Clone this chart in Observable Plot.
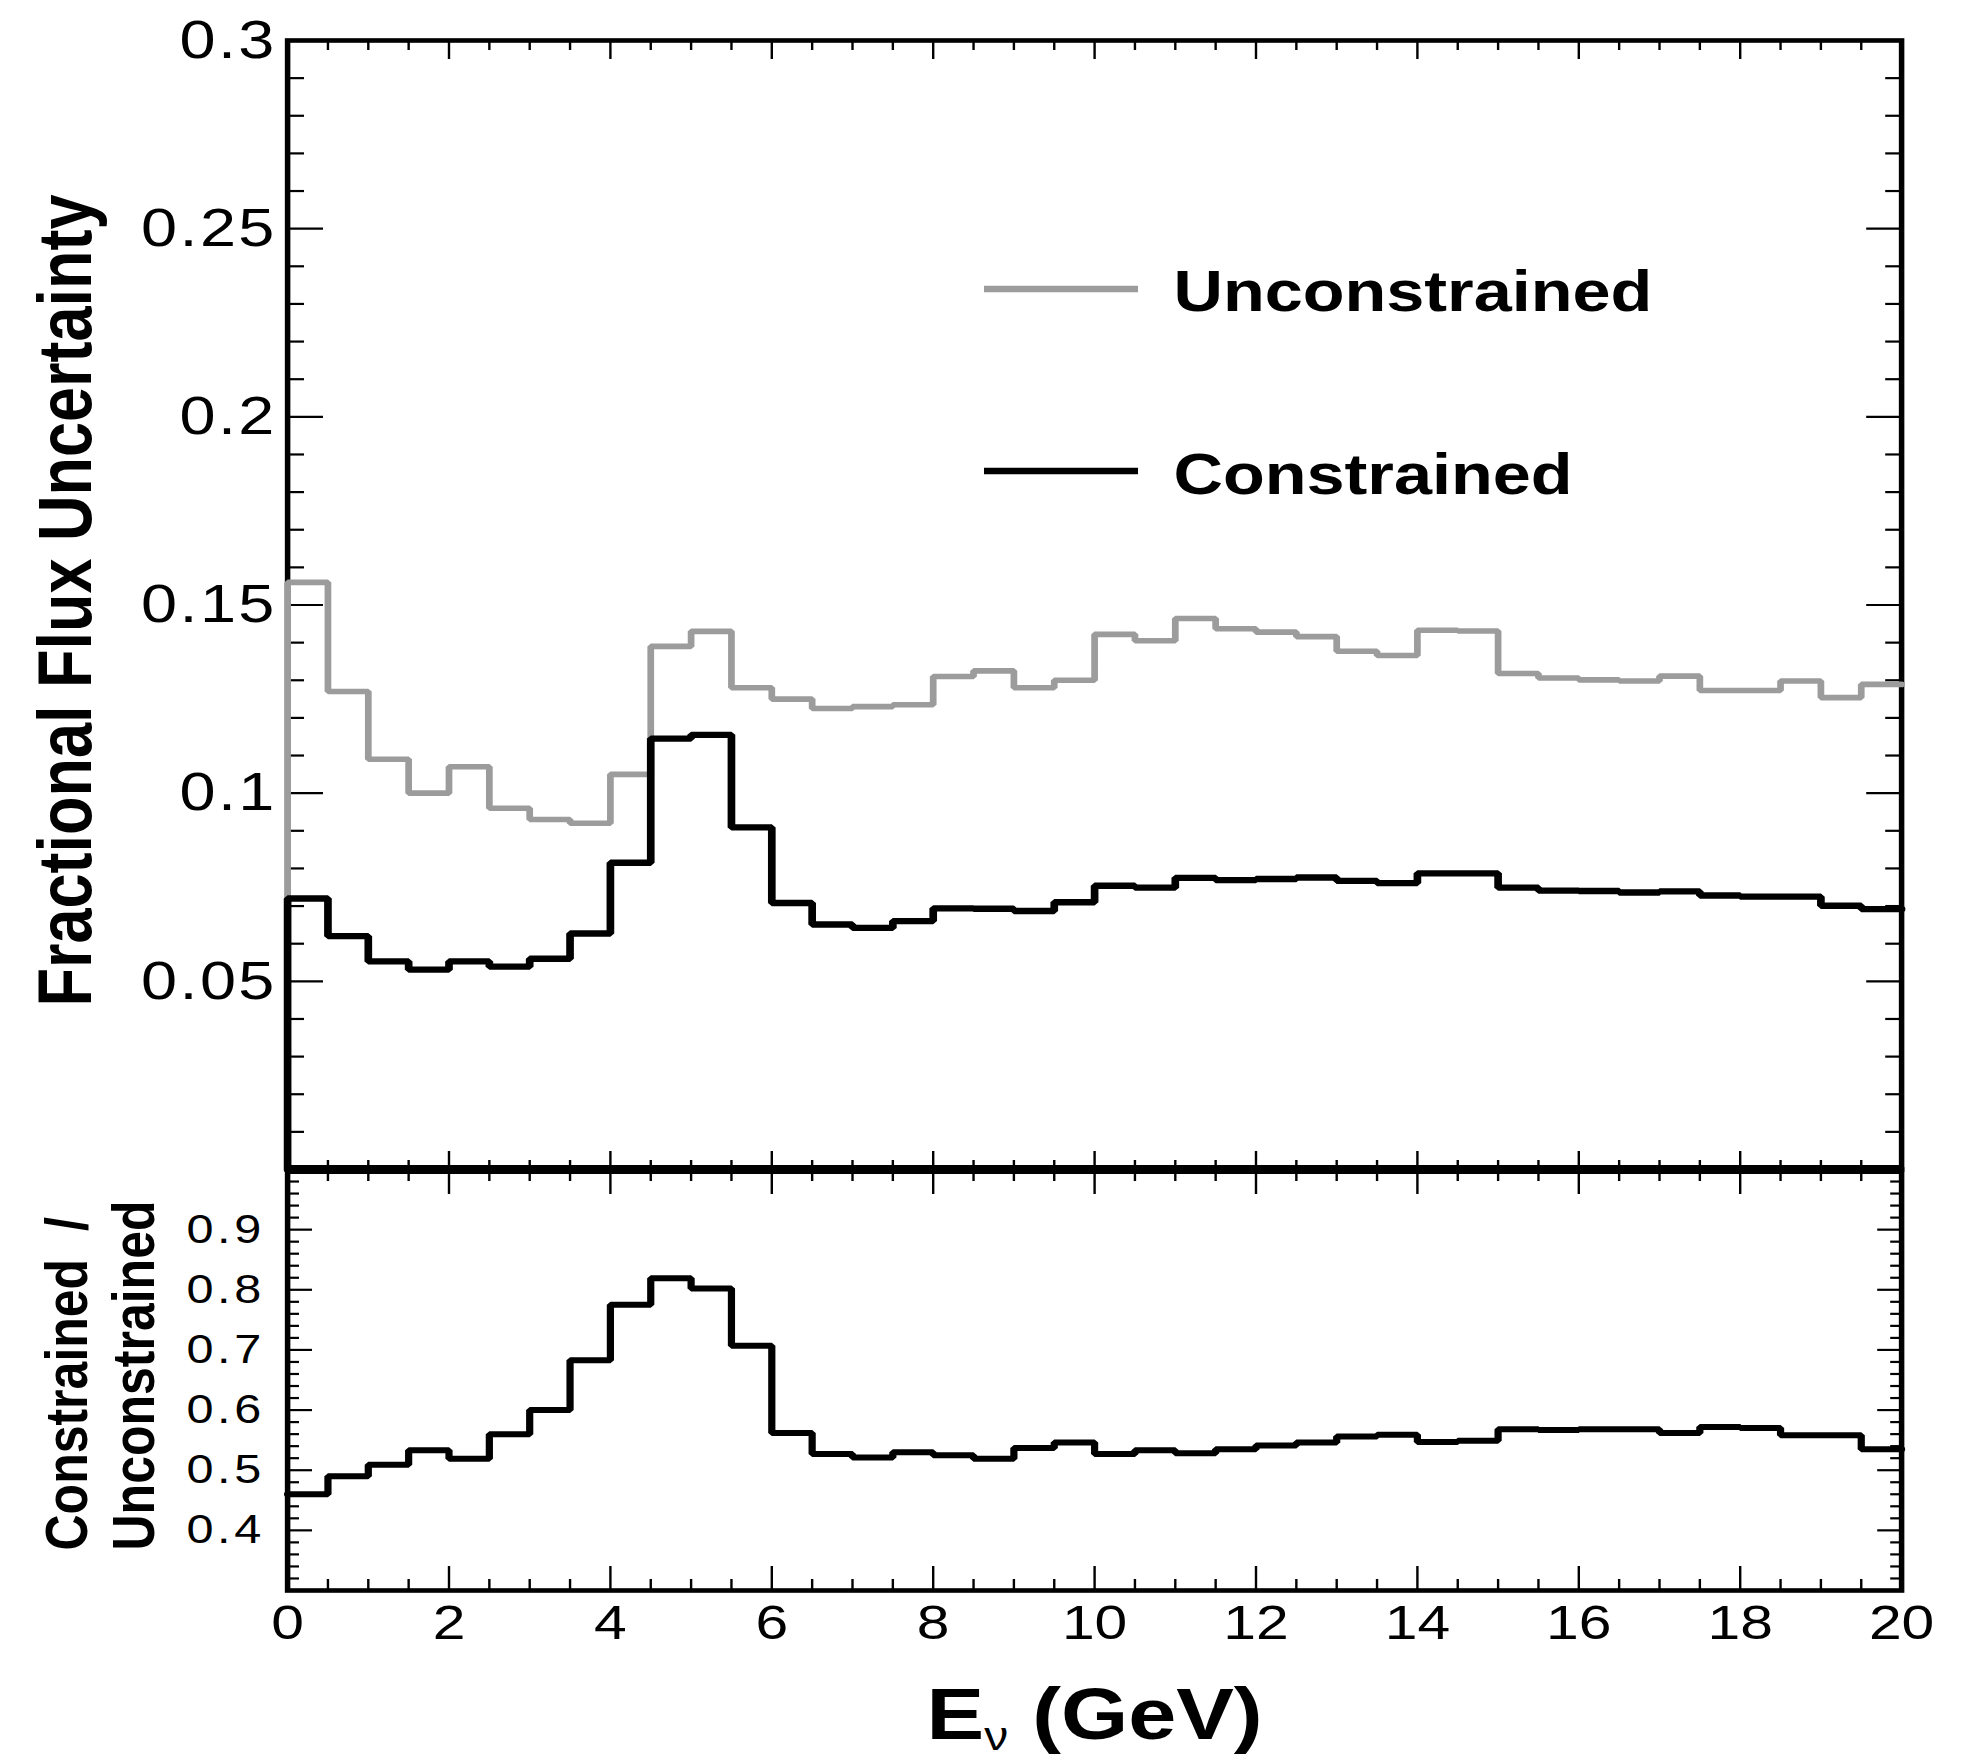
<!DOCTYPE html>
<html><head><meta charset="utf-8">
<script src="https://cdn.jsdelivr.net/npm/d3@7"></script>
<script src="https://cdn.jsdelivr.net/npm/@observablehq/plot@0.6"></script>
<style>
html,body{margin:0;padding:0;background:#fff;}
#wrap{position:relative;width:1649px;height:1756px;transform:scaleX(1.20012);transform-origin:0 0;}
#wrap svg{position:absolute;left:0;top:0;}
</style></head>
<body><div id="wrap"></div>
<script>
// ---------- data (40 bins of 0.5 GeV, 0–20 GeV) ----------
const binWidth = 0.5;
const binLow = d3.range(40).map(i => i * binWidth);
const unconstrained = [0.156,0.127,0.109,0.100,0.107,0.096,0.093,0.092,0.105,0.139,
  0.143,0.128,0.125,0.1225,0.123,0.1235,0.131,0.1325,0.128,0.130,
  0.1422,0.1405,0.1464,0.1437,0.1428,0.1416,0.1377,0.1366,0.1433,0.1431,
  0.1318,0.1306,0.1301,0.1298,0.1311,0.1273,0.1273,0.1298,0.1254,0.1289];
const constrained = [0.072,0.062,0.0553,0.0531,0.0553,0.0539,0.056,0.0627,0.0815,0.1145,
  0.1155,0.0909,0.0708,0.0651,0.0642,0.066,0.0694,0.0693,0.0687,0.071,
  0.0754,0.0749,0.0775,0.0769,0.0772,0.0776,0.0767,0.0761,0.0787,0.0787,
  0.0749,0.0741,0.074,0.0736,0.0739,0.0728,0.0725,0.0725,0.0701,0.0692];
const ratio = [0.460,0.490,0.509,0.533,0.519,0.560,0.600,0.683,0.775,0.819,
  0.802,0.707,0.562,0.527,0.521,0.530,0.525,0.519,0.537,0.546,
  0.527,0.533,0.528,0.535,0.541,0.546,0.556,0.559,0.547,0.549,
  0.568,0.567,0.568,0.568,0.562,0.572,0.570,0.558,0.558,0.535];
const seriesNames = ["Unconstrained", "Constrained"];
const seriesColors = ["#9c9c9c", "#000000"];

// ---------- ticks ----------
const xMajorTicks = [0,2,4,6,8,10,12,14,16,18,20];
const xTickLabels = ["0","2","4","6","8","10","12","14","16","18","20"];
const xMinorTicks = d3.range(0, 20.01, 0.5).filter(v => Math.abs(v/2 - Math.round(v/2)) > 1e-6);
const upperYMajorTicks = [0.05,0.1,0.15,0.2,0.25,0.3];
const upperYTickLabels = ["0.05","0.1","0.15","0.2","0.25","0.3"];
const upperYMinorTicks = d3.range(1, 30).map(i => i/100).filter(v => Math.abs(v*20 - Math.round(v*20)) > 1e-6);
const lowerYMajorTicks = [0.4,0.5,0.6,0.7,0.8,0.9];
const lowerYTickLabels = ["0.4","0.5","0.6","0.7","0.8","0.9"];
const lowerYMinorTicks = d3.range(16, 50).map(i => i/50).filter(v => Math.abs(v*10 - Math.round(v*10)) > 1e-6);
const yTitleUpper = "Fractional Flux Uncertainty";
const yTitleLower = "Constrained\u00a0 /\nUnconstrained";
const xTitle = "E\u03bd (GeV)";

// ---------- layout ----------
const S = 1979/1649, W = 1649, H = 1756;
const ML = 287/S, MR = W - 1901/S;
const upperTop = 40, upperBottom = 1169, lowerBottom = 1590;
const font = "'Liberation Sans', Arial, Helvetica, sans-serif";

function steps(values, startFrom) {
  const pts = [];
  if (startFrom !== undefined) pts.push({x: binLow[0], y: startFrom});
  values.forEach((v, i) => pts.push({x: binLow[i], y: v}));
  pts.push({x: binLow[binLow.length-1] + binWidth, y: values[values.length-1]});
  return pts;
}
const fmt = (ticks, labels) => { const m = new Map(ticks.map((t,i)=>[t, labels[i]])); return d => m.get(d); };

function tickAxes(yMinor, yMajor, yMinLen, yMajLen, xMinLen, xMajLen) {
  const o = {fill: "none", label: null};
  return [
    Plot.axisY(yMinor, {...o, anchor:"left", tickSize: -yMinLen/S, strokeWidth: 2.2}),
    Plot.axisY(yMajor, {...o, anchor:"left", tickSize: -yMajLen/S, strokeWidth: 2.2}),
    Plot.axisY(yMinor, {...o, anchor:"right", tickSize: -yMinLen/S, strokeWidth: 2.2}),
    Plot.axisY(yMajor, {...o, anchor:"right", tickSize: -yMajLen/S, strokeWidth: 2.2}),
    Plot.axisX(xMinorTicks, {...o, anchor:"top", tickSize: -xMinLen, strokeWidth: 2}),
    Plot.axisX(xMajorTicks, {...o, anchor:"top", tickSize: -xMajLen, strokeWidth: 2}),
    Plot.axisX(xMinorTicks, {...o, anchor:"bottom", tickSize: -xMinLen, strokeWidth: 2}),
    Plot.axisX(xMajorTicks, {...o, anchor:"bottom", tickSize: -xMajLen, strokeWidth: 2})
  ];
}

const upper = Plot.plot({
  width: W, height: H,
  marginLeft: ML, marginRight: MR, marginTop: upperTop, marginBottom: H - upperBottom,
  x: {domain: [0, 20], axis: null},
  y: {domain: [0, 0.3], axis: null},
  style: {fontFamily: font, background: "transparent", overflow: "visible", color: "#000"},
  marks: [
    ...tickAxes(upperYMinorTicks, upperYMajorTicks, 17, 36, 9, 18),
    Plot.axisY(upperYMajorTicks, {anchor:"left", tickSize: 0, tickPadding: 9, fontSize: 54, label: null,
      tickFormat: fmt(upperYMajorTicks, upperYTickLabels)}),
    Plot.frame({strokeWidth: 4.6}),
    Plot.ruleY([0], {strokeWidth: 9}),
    Plot.line(steps(unconstrained, 0), {x:"x", y:"y", curve:"step-after", stroke: seriesColors[0], strokeWidth: 5.6, strokeLinejoin:"miter"}),
    Plot.line(steps(constrained, 0), {x:"x", y:"y", curve:"step-after", stroke: seriesColors[1], strokeWidth: 6.4, strokeLinejoin:"miter"}),
    Plot.text([yTitleUpper], {text: d => d, frameAnchor: "left", rotate: -90, textAnchor: "middle", lineAnchor: "bottom",
      dx: 75 - ML, dy: -4.5, fontSize: 63, fontWeight: "bold"})
  ]
});

const lower = Plot.plot({
  width: W, height: H,
  marginLeft: ML, marginRight: MR, marginTop: upperBottom, marginBottom: H - lowerBottom,
  x: {domain: [0, 20], axis: null},
  y: {domain: [0.3, 1.0], axis: null},
  style: {fontFamily: font, background: "transparent", overflow: "visible", color: "#000"},
  marks: [
    ...tickAxes(lowerYMinorTicks, lowerYMajorTicks, 12, 25, 11, 24),
    Plot.axisY(lowerYMajorTicks, {anchor:"left", tickSize: 0, tickPadding: 19, fontSize: 40.5, label: null,
      tickFormat: fmt(lowerYMajorTicks, lowerYTickLabels)}),
    Plot.axisX(xMajorTicks, {anchor:"bottom", tickSize: 0, tickPadding: 14, fontSize: 49, label: null,
      tickFormat: fmt(xMajorTicks, xTickLabels)}),
    Plot.frame({strokeWidth: 4.6}),
    Plot.line(steps(ratio), {x:"x", y:"y", curve:"step-after", stroke: "#000", strokeWidth: 6, strokeLinejoin:"miter"}),
    Plot.text([yTitleLower], {text: d => d, frameAnchor: "bottom-left", rotate: -90, textAnchor: "start", lineAnchor: "bottom",
      lineHeight: 55.8/50, dx: 127.5 - ML, dy: 1550 - lowerBottom, fontSize: 50, fontWeight: "bold"}),
    Plot.text([xTitle], {text: d => d, frameAnchor: "bottom", textAnchor: "middle", lineAnchor: "bottom",
      dy: 1738 - lowerBottom, fontSize: 72, fontWeight: "bold"})
  ]
});

const wrap = document.getElementById("wrap");
wrap.appendChild(upper);
wrap.appendChild(lower);

// letter spacing of tick labels (reference glyphs are wide)
d3.select(upper).selectAll('g[aria-label="y-axis tick label"] text').style("letter-spacing", "2px");
d3.select(lower).selectAll('g[aria-label="y-axis tick label"] text').style("letter-spacing", "3px");

// subscript nu in x title
d3.select(lower).selectAll("text").filter(function(){ return this.textContent === xTitle; }).each(function(){
  const t = d3.select(this);
  t.text(null);
  t.append("tspan").text("E");
  t.append("tspan").attr("font-size", 40).attr("font-weight", "normal").attr("dy", 11).text("\u03bd");
  t.append("tspan").attr("dy", -11).text(" (GeV)");
});

// legend inside the upper frame
const lg = d3.select(upper).append("g").attr("aria-label", "legend").attr("text-anchor", "start");
const legendLineY = [289, 471], legendTextY = [311, 494];
seriesNames.forEach((name, i) => {
  lg.append("line").attr("x1", 984/S).attr("x2", 1138/S).attr("y1", legendLineY[i]).attr("y2", legendLineY[i])
    .attr("stroke", seriesColors[i]).attr("stroke-width", 6.4);
  lg.append("text").attr("x", 1173.5/S).attr("y", legendTextY[i]).attr("font-size", 57).attr("font-weight", "bold")
    .attr("text-anchor", "start").attr("fill", "#000").text(name);
});
</script>
</body></html>
